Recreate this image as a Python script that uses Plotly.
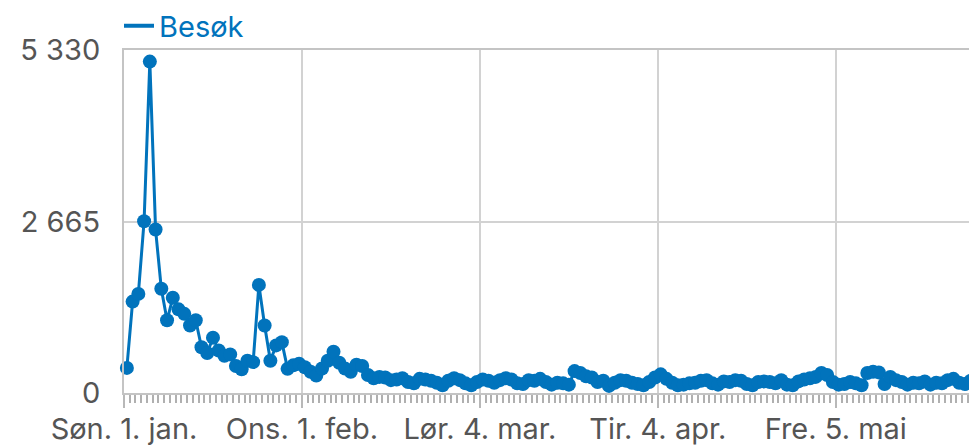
import datetime as dt
import plotly.graph_objects as go

start_date = "2017-01-01"
visits = [
    390, 1420, 1540, 2670, 5150, 2540, 1620, 1130, 1480, 1300,
    1230, 1050, 1130, 710, 620, 860, 660, 580, 600, 420,
    370, 500, 480, 1680, 1050, 500, 740, 790, 375, 430,
    455, 400, 330, 270, 380, 500, 640, 470, 380, 330,
    440, 420, 280, 230, 250, 240, 200, 210, 230, 170,
    150, 220, 210, 190, 160, 120, 190, 230, 200, 150,
    120, 170, 210, 190, 160, 200, 230, 210, 150, 140,
    200, 190, 220, 170, 130, 160, 150, 130, 340, 310,
    260, 240, 170, 190, 110, 160, 200, 190, 160, 140,
    120, 170, 240, 290, 220, 160, 120, 130, 150, 160,
    190, 200, 150, 130, 180, 170, 200, 190, 140, 120,
    170, 180, 170, 150, 200, 130, 120, 180, 210, 230,
    250, 310, 280, 170, 130, 140, 170, 150, 120, 310,
    330, 320, 140, 250, 200, 170, 130, 160, 150, 180,
    130, 160, 150, 200, 220, 160, 140, 190,
]
tick_dates = ["2017-01-01", "2017-02-01", "2017-03-04", "2017-04-04", "2017-05-05"]
tick_labels = ["Søn. 1. jan.", "Ons. 1. feb.", "Lør. 4. mar.", "Tir. 4. apr.", "Fre. 5. mai"]
y_ticks = [0, 2665, 5330]
y_labels = ["0", "2 665", "5 330"]
series_name = "Besøk"

base = dt.datetime.fromisoformat(start_date)
dates = [base + dt.timedelta(days=i, hours=12) for i in range(len(visits))]

BLUE = "#0173BC"
GRID = "#d2d2d2"
TEXT = "#555555"
FONT = "Inter, Open Sans, sans-serif"
FS = 29

W, H = 977, 445
ML, MT, MB, MR = 116, 42, 60, 0
plot_w = W - ML - MR
plot_h = H - MT - MB

fig = go.Figure()
fig.add_trace(go.Scatter(
    x=dates, y=visits, mode="lines+markers",
    line=dict(color=BLUE, width=3),
    marker=dict(color=BLUE, size=14),
    showlegend=False, cliponaxis=False,
))
fig.add_trace(go.Scatter(
    x=[None], y=[None], mode="lines", name=series_name,
    line=dict(color=BLUE, width=4), showlegend=True,
))

x_end = base + dt.timedelta(days=plot_w / 5.74)

fig.update_layout(
    width=W, height=H,
    margin=dict(l=ML, r=MR, t=MT, b=MB, autoexpand=False),
    paper_bgcolor="white", plot_bgcolor="white",
    font=dict(family=FONT, size=FS, color=TEXT),
    legend=dict(
        orientation="h",
        x=-5 / plot_w, xanchor="left", y=1 + (MT - 18) / plot_h, yanchor="middle",
        font=dict(color=BLUE, size=FS), bgcolor="rgba(0,0,0,0)",
        itemwidth=30, tracegroupgap=0,
    ),
    xaxis=dict(
        range=[base, x_end], type="date", automargin=False,
        tickmode="array", tickvals=tick_dates, ticktext=tick_labels,
        showgrid=True, gridcolor=GRID, gridwidth=2,
        showline=True, linecolor="#c4c4c4", linewidth=2, mirror=True,
        ticks="outside", ticklen=13, tickwidth=2, tickcolor="#b8b8b8",
        ticklabelstandoff=-4,
        tickfont=dict(size=FS, color=TEXT),
        minor=dict(dtick=86400000, tick0=start_date, ticks="outside",
                   ticklen=8, tickwidth=1.5, tickcolor="#b0b0b0", showgrid=False),
        zeroline=False,
    ),
    yaxis=dict(
        range=[0, 5330], tickmode="array", tickvals=y_ticks, ticktext=y_labels,
        automargin=False,
        showgrid=True, gridcolor=GRID, gridwidth=2,
        showline=True, linecolor="#c4c4c4", linewidth=2, mirror=True,
        ticks="", ticklabelstandoff=16,
        tickfont=dict(size=FS, color=TEXT),
        zeroline=False,
    ),
)

fig.write_html("out.html")
